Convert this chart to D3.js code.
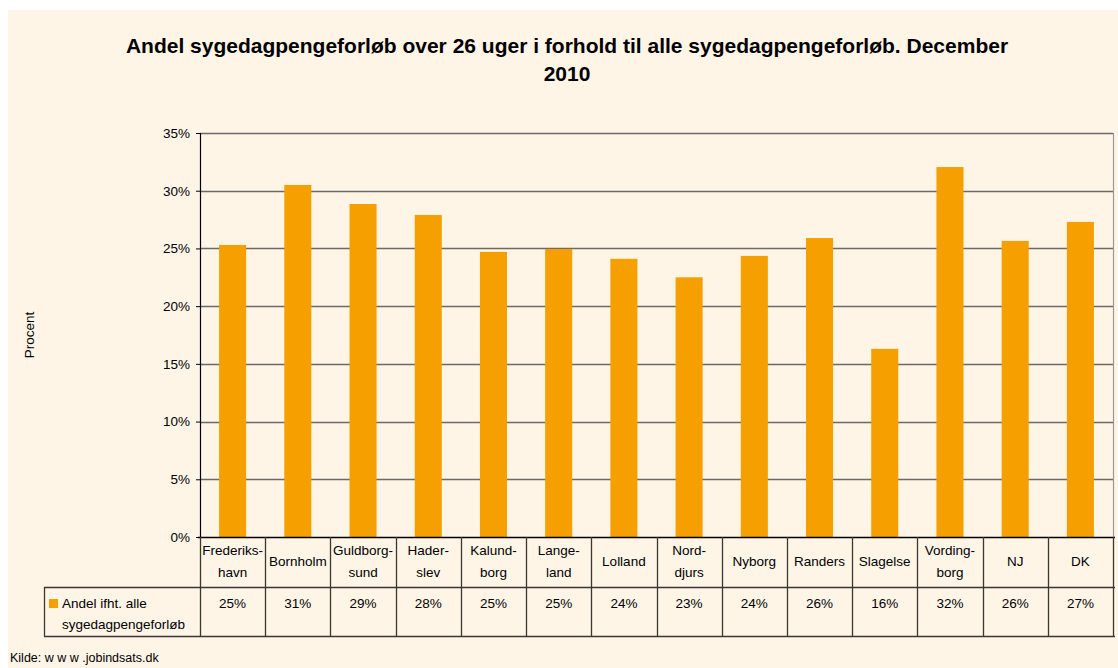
<!DOCTYPE html>
<html><head><meta charset="utf-8">
<script src="https://cdn.jsdelivr.net/npm/d3@7"></script>
<style>
html,body{margin:0;padding:0;background:#fff;}
svg text{font-family:"Liberation Sans",Arial,sans-serif;fill:#000;}
</style></head>
<body>
<svg id="c" width="1118" height="668"></svg>
<script>
const categories = [["Frederiks-","havn"],["Bornholm"],["Guldborg-","sund"],["Hader-","slev"],["Kalund-","borg"],["Lange-","land"],["Lolland"],["Nord-","djurs"],["Nyborg"],["Randers"],["Slagelse"],["Vording-","borg"],["NJ"],["DK"]];
const values = [25.3, 30.5, 28.85, 27.9, 24.7, 24.95, 24.1, 22.5, 24.35, 25.9, 16.3, 32.05, 25.65, 27.3];
const tableLabels = ["25%","31%","29%","28%","25%","25%","24%","23%","24%","26%","16%","32%","26%","27%"];
const yTicks = [0,5,10,15,20,25,30,35];
const seriesName = ["Andel ifht. alle","sygedagpengeforløb"];

const svg = d3.select("#c");
svg.append("rect").attr("x",8).attr("y",10).attr("width",1110).attr("height",658).attr("fill","#fef5e7");

const L=200, R=1113, T=133, B=537;
const x = d3.scaleBand().domain(d3.range(categories.length)).range([L,R]).paddingInner(0.585).paddingOuter(0.2925);
const xb = d3.scaleBand().domain(d3.range(categories.length)).range([L,R]);
const y = d3.scaleLinear().domain([0,35]).range([B,T]);
const fs = "13.5px";

// title
const title = svg.append("text").attr("text-anchor","middle").attr("font-weight","bold").attr("font-size","21px");
title.append("tspan").attr("x",567).attr("y",53).text("Andel sygedagpengeforløb over 26 uger i forhold til alle sygedagpengeforløb. December");
title.append("tspan").attr("x",567).attr("y",81).text("2010");

// grid
svg.append("g").selectAll("line").data(yTicks.filter(d=>d>0)).join("line")
  .attr("x1",L).attr("x2",R).attr("y1",d=>Math.round(y(d))+0.5).attr("y2",d=>Math.round(y(d))+0.5)
  .attr("stroke","#6e6a66").attr("stroke-width",1.6);
// right border of plot
svg.append("line").attr("x1",R+0.5).attr("x2",R+0.5).attr("y1",T).attr("y2",B).attr("stroke","#999").attr("stroke-width",1.2);

// bars
svg.append("g").selectAll("rect").data(values).join("rect")
  .attr("x",(d,i)=>x(i)).attr("width",x.bandwidth())
  .attr("y",d=>y(d)).attr("height",d=>B-y(d)).attr("fill","#f5a000");

// y axis
const ya = svg.append("g").attr("transform",`translate(${L},0)`)
  .call(d3.axisLeft(y).tickValues(yTicks).tickFormat(d=>d+"%").tickSize(4).tickPadding(6));
ya.select(".domain").attr("stroke","#000").attr("stroke-width",1.2);
ya.selectAll(".tick line").attr("stroke","#000");
ya.selectAll(".tick text").attr("font-size",fs).attr("font-family","Liberation Sans, Arial, sans-serif").attr("fill","#000");

// y label
svg.append("text").attr("transform","translate(34,335) rotate(-90)").attr("text-anchor","middle").attr("font-size",fs).text("Procent");

// table
const rowMid=587, rowBot=636, tabL=44;
const tg = svg.append("g").attr("stroke","#3a3632").attr("stroke-width",1.3);
tg.append("line").attr("x1",L-2).attr("x2",R+2).attr("y1",B+0.5).attr("y2",B+0.5).attr("stroke","#000").attr("stroke-width",1.6);
tg.append("line").attr("x1",tabL).attr("x2",R+2).attr("y1",rowMid+0.5).attr("y2",rowMid+0.5);
tg.append("line").attr("x1",tabL).attr("x2",R+2).attr("y1",rowBot+0.5).attr("y2",rowBot+0.5);
tg.append("line").attr("x1",tabL+0.5).attr("x2",tabL+0.5).attr("y1",rowMid).attr("y2",rowBot);
tg.selectAll("line.v").data(d3.range(categories.length+1)).join("line").attr("class","v")
  .attr("x1",i=>Math.round(i<categories.length?xb(i):R)+0.5).attr("x2",i=>Math.round(i<categories.length?xb(i):R)+0.5)
  .attr("y1",B).attr("y2",rowBot);

// header labels
const hl = svg.append("g").selectAll("text").data(categories).join("text")
  .attr("text-anchor","middle").attr("font-size",fs);
hl.each(function(d,i){
  const cx = xb(i)+xb.bandwidth()/2;
  const t=d3.select(this);
  if(d.length===1){ t.append("tspan").attr("x",cx).attr("y",566).text(d[0]); }
  else { t.append("tspan").attr("x",cx).attr("y",555).text(d[0]); t.append("tspan").attr("x",cx).attr("y",577).text(d[1]); }
});

// values
svg.append("g").selectAll("text").data(tableLabels).join("text")
  .attr("text-anchor","middle").attr("font-size",fs)
  .attr("x",(d,i)=>xb(i)+xb.bandwidth()/2).attr("y",608).text(d=>d);

// legend
svg.append("rect").attr("x",49).attr("y",599).attr("width",9).attr("height",9).attr("fill","#f5a000");
const lt = svg.append("text").attr("font-size",fs);
lt.append("tspan").attr("x",62).attr("y",608).text(seriesName[0]);
lt.append("tspan").attr("x",62).attr("y",629).text(seriesName[1]);

// source
svg.append("text").attr("x",10).attr("y",662).attr("font-size","12.5px").text("Kilde: w w w .jobindsats.dk");
</script>
</body></html>
